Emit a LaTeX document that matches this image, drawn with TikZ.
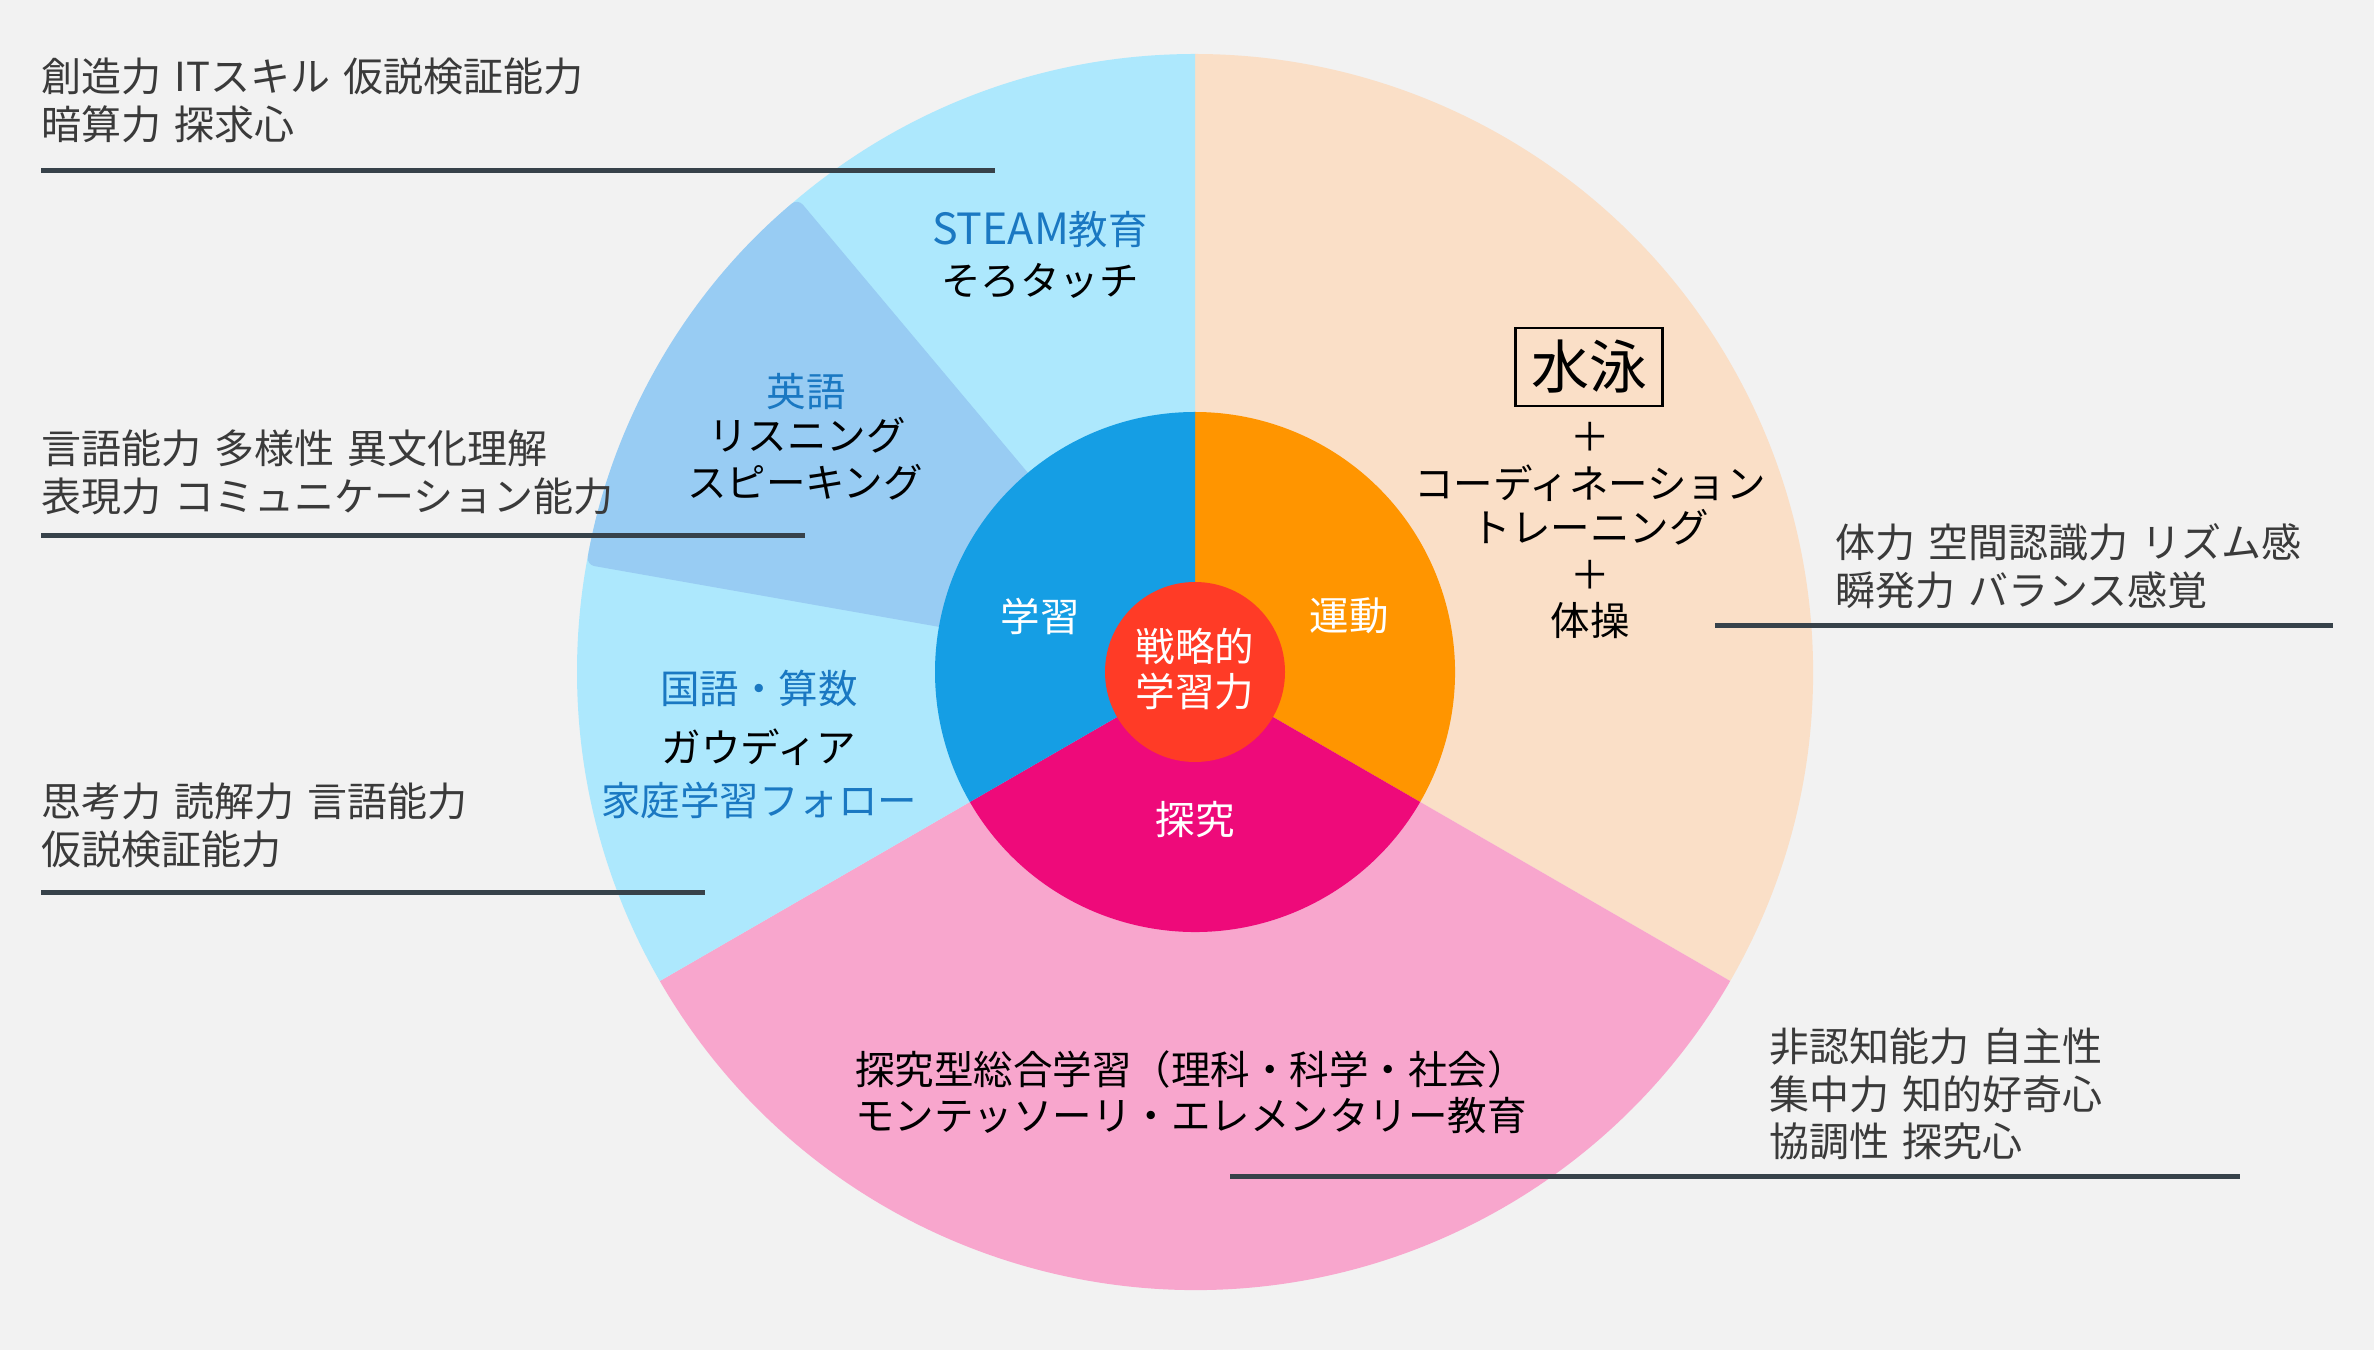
\documentclass[tikz,border=0pt]{standalone}
\usepackage{fontspec}
\setmainfont[WordSpace=1.5]{Noto Sans CJK JP}
\definecolor{bg}{HTML}{F2F2F2}
\definecolor{lblue}{HTML}{ADE8FD}
\definecolor{engblue}{HTML}{98CCF3}
\definecolor{iblue}{HTML}{159EE4}
\definecolor{peach}{HTML}{FADFC7}
\definecolor{iorange}{HTML}{FF9500}
\definecolor{pink}{HTML}{F8A6CD}
\definecolor{magenta}{HTML}{EE0A7A}
\definecolor{cred}{HTML}{FF3B26}
\definecolor{txtblue}{HTML}{1A78C2}
\definecolor{sidegray}{HTML}{3A3A3A}
\definecolor{linegray}{HTML}{37424A}
\begin{document}
\begin{tikzpicture}[x=1pt,y=1pt,
  every node/.style={inner sep=0pt,outer sep=0pt},
  sidelabel/.style={anchor=west,align=left,text=sidegray,font=\fontsize{40}{48}\selectfont},
  ringtxt/.style={text=black,font=\fontsize{39.5}{46}\selectfont},
  bluetxt/.style={ringtxt,text=txtblue},
  whitetxt/.style={ringtxt,text=white},
  rulebar/.style={line width=5pt,draw=linegray}]
\fill[bg] (0,0) rectangle (2374,1350);
\useasboundingbox (0,0) rectangle (2374,1350);
\coordinate (C) at (1195,678);
% outer ring
\fill[peach] (C) -- ++(-30:618) arc[start angle=-30,end angle=90,radius=618] -- cycle;
\fill[pink] (C) -- ++(210:618) arc[start angle=210,end angle=330,radius=618] -- cycle;
\fill[lblue] (C) -- ++(90:618) arc[start angle=90,end angle=210,radius=618] -- cycle;
\fill[engblue,rounded corners=8pt] (C) -- ++(130:618) arc[start angle=130,end angle=170,radius=618] -- cycle;
% inner ring
\fill[iorange] (C) -- ++(-30:260) arc[start angle=-30,end angle=90,radius=260] -- cycle;
\fill[magenta] (C) -- ++(210:260) arc[start angle=210,end angle=330,radius=260] -- cycle;
\fill[iblue] (C) -- ++(90:260) arc[start angle=90,end angle=210,radius=260] -- cycle;
\fill[cred] (C) circle[radius=90];
% center texts
\node[whitetxt] (c1) at (1195,704) {戦略的};
\node[whitetxt] (c2) at (1195,659) {学習力};
\node[whitetxt] (gak) at (1040,734) {学習};
\node[whitetxt] (und) at (1349,734) {運動};
\node[whitetxt] (tan) at (1195,530) {探究};
% outer ring texts
\node[bluetxt] (steam) at (1040,1120) {{\fontsize{43}{46}\selectfont STEAM}教育};
\node[ringtxt] (soro) at (1040,1069) {そろタッチ};
\node[bluetxt] (eigo) at (806,958) {英語};
\node[ringtxt] (lis) at (807,915) {リスニング};
\node[ringtxt] (spk) at (805,868) {スピーキング};
\node[bluetxt] (koku) at (759,662) {国語・算数};
\node[ringtxt] (gau) at (759,603) {ガウディア};
\node[bluetxt] (kat) at (759,550) {家庭学習フォロー};
\node[draw=black,line width=2.5pt,minimum width=147pt,minimum height=78pt,font=\fontsize{58}{64}\selectfont] (sui) at (1589,983) {水泳};
\node[ringtxt] (p1) at (1590,913) {＋};
\node[ringtxt] (coord) at (1590,867) {コーディネーション};
\node[ringtxt] (tr) at (1590,823) {トレーニング};
\node[ringtxt] (p2) at (1590,775) {＋};
\node[ringtxt] (tai) at (1590,729) {体操};
\node[ringtxt,anchor=west,align=left] (tq) at (855,258) {探究型総合学習（理科・科学・社会）\\モンテッソーリ・エレメンタリー教育};
% side labels
\node[sidelabel] (s1) at (41,1250) {創造力 ITスキル 仮説検証能力\\暗算力 探求心};
\node[sidelabel] (s2) at (41,878) {言語能力 多様性 異文化理解\\表現力 コミュニケーション能力};
\node[sidelabel] (s3) at (41,525) {思考力 読解力 言語能力\\仮説検証能力};
\node[sidelabel] (s4) at (1835,784) {体力 空間認識力 リズム感\\瞬発力 バランス感覚};
\node[sidelabel,font=\fontsize{40}{47.5}\selectfont] (s5) at (1769,256) {非認知能力 自主性\\集中力 知的好奇心\\協調性 探究心};
% rules
\coordinate (r1a) at (41,1179); \coordinate (r1b) at (995,1179);
\coordinate (r2a) at (41,814); \coordinate (r2b) at (805,814);
\coordinate (r3a) at (41,457); \coordinate (r3b) at (705,457);
\coordinate (r4a) at (1715,724); \coordinate (r4b) at (2333,724);
\coordinate (r5a) at (1230,174); \coordinate (r5b) at (2240,174);
\draw[rulebar] (r1a) -- (r1b);
\draw[rulebar] (r2a) -- (r2b);
\draw[rulebar] (r3a) -- (r3b);
\draw[rulebar] (r4a) -- (r4b);
\draw[rulebar] (r5a) -- (r5b);
\end{tikzpicture}
\end{document}
